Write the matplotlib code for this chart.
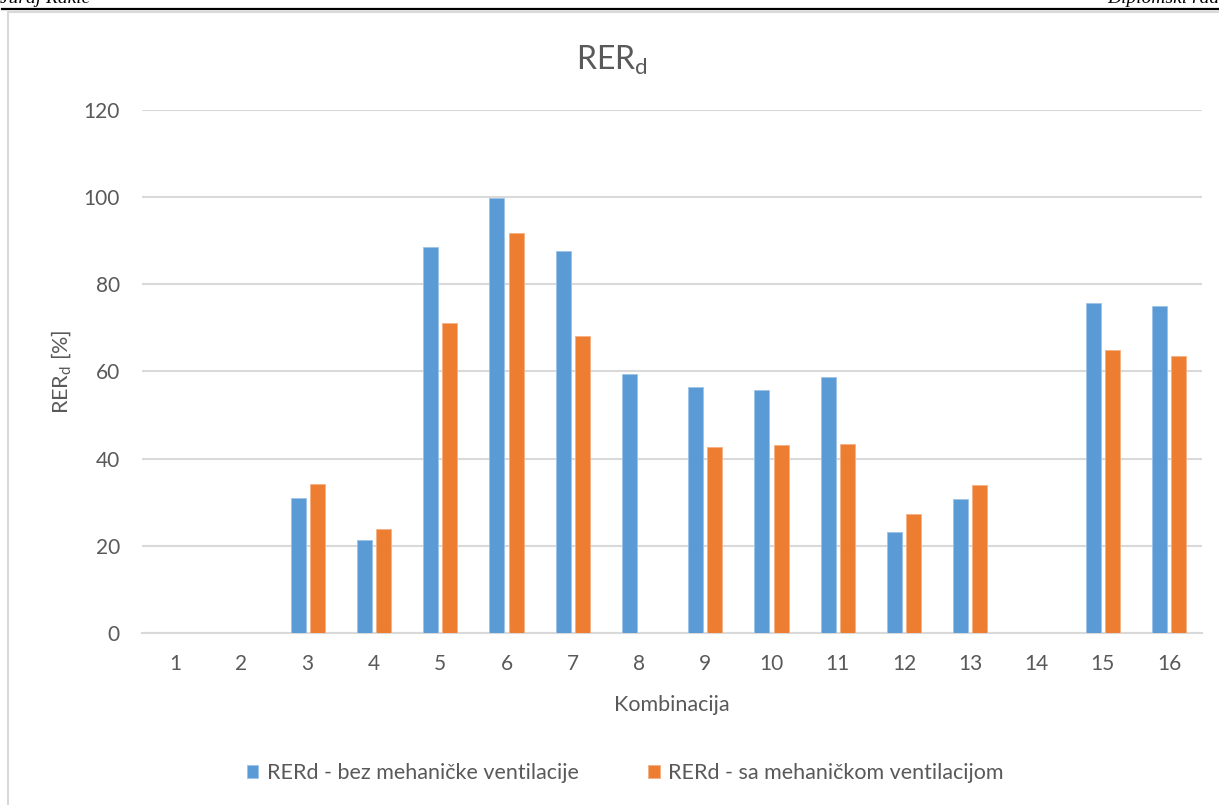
import matplotlib.pyplot as plt
from matplotlib.patches import Rectangle
from matplotlib.lines import Line2D

plt.rcParams['font.family'] = ['Lato', 'DejaVu Sans']
plt.rcParams['mathtext.fontset'] = 'custom'
plt.rcParams['mathtext.rm'] = 'Lato'

# data
kombinacije = list(range(1, 17))
bez_ventilacije = [0, 0, 31.0, 21.3, 88.5, 99.9, 87.6, 59.4, 56.4, 55.8, 58.7, 23.2, 30.8, 0, 75.6, 75.0]
sa_ventilacijom = [0, 0, 34.2, 23.9, 71.2, 91.7, 68.2, 0, 42.6, 43.1, 43.4, 27.2, 34.0, 0, 64.9, 63.5]
labele = ['RERd - bez mehaničke ventilacije', 'RERd - sa mehaničkom ventilacijom']
boje = ['#5b9bd5', '#ed7d31']
siva = '#595959'

fig = plt.figure(figsize=(12.19, 8.05), dpi=100)

# page header (cut off at the top) and chart frame
fig.text(0.0, 0.991, 'Juraj Rakić', ha='left', va='bottom', fontsize=14,
         family='Liberation Serif', style='italic')
fig.text(1.0, 0.991, 'Diplomski rad', ha='right', va='bottom', fontsize=14,
         family='Liberation Serif', style='italic')
fig.add_artist(Line2D([0.002, 1.0], [0.9885, 0.9885], color='black', lw=1.6,
                      transform=fig.transFigure))
fig.patches.append(Rectangle((0.0066, -0.1), 1.2, 1.085, transform=fig.transFigure,
                             fill=False, edgecolor='#d9d9d9', lw=1.5))

ax = fig.add_axes([0.1165, 0.2137, 0.8697, 0.6497])
w = 0.225
off = 0.145
x = [k for k in kombinacije]
ax.bar([k - off for k in x], bez_ventilacije, width=w, color=boje[0],
       edgecolor='#9dc3e6', linewidth=0.6, label=labele[0], zorder=3)
ax.bar([k + off for k in x], sa_ventilacijom, width=w, color=boje[1],
       edgecolor='#f4b183', linewidth=0.6, label=labele[1], zorder=3)

ax.set_xlim(0.5, 16.5)
ax.set_ylim(0, 120)
ax.set_yticks(range(0, 121, 20))
ax.set_xticks(x)
ax.set_xticklabels([str(k) for k in kombinacije])
ax.grid(axis='y', color='#d9d9d9', lw=1.5, zorder=0)
for s in ['top', 'right', 'left']:
    ax.spines[s].set_visible(False)
ax.spines['bottom'].set_color('#d9d9d9')
ax.spines['bottom'].set_linewidth(1.5)
ax.tick_params(length=0, labelsize=15, colors=siva)
ax.tick_params(axis='x', pad=15)
ax.tick_params(axis='y', pad=16)

fig.text(612 / 1219, 1 - 60 / 805, r'RER$_\mathregular{d}$', fontsize=23,
         color=siva, ha='center', va='center')
ax.set_xlabel('Kombinacija', fontsize=15.5, color=siva, labelpad=15)
ax.set_ylabel(r'RER$_\mathregular{d}$ [%]', fontsize=15.5, color=siva, labelpad=7)

ax.legend(loc='center', bbox_to_anchor=((625 - 142) / 1060, -0.268),
          ncol=2, frameon=False, fontsize=15.5, labelcolor=siva,
          handlelength=0.55, handleheight=0.55, handletextpad=0.4, columnspacing=3.2)

fig.savefig('out.png', dpi=100)
